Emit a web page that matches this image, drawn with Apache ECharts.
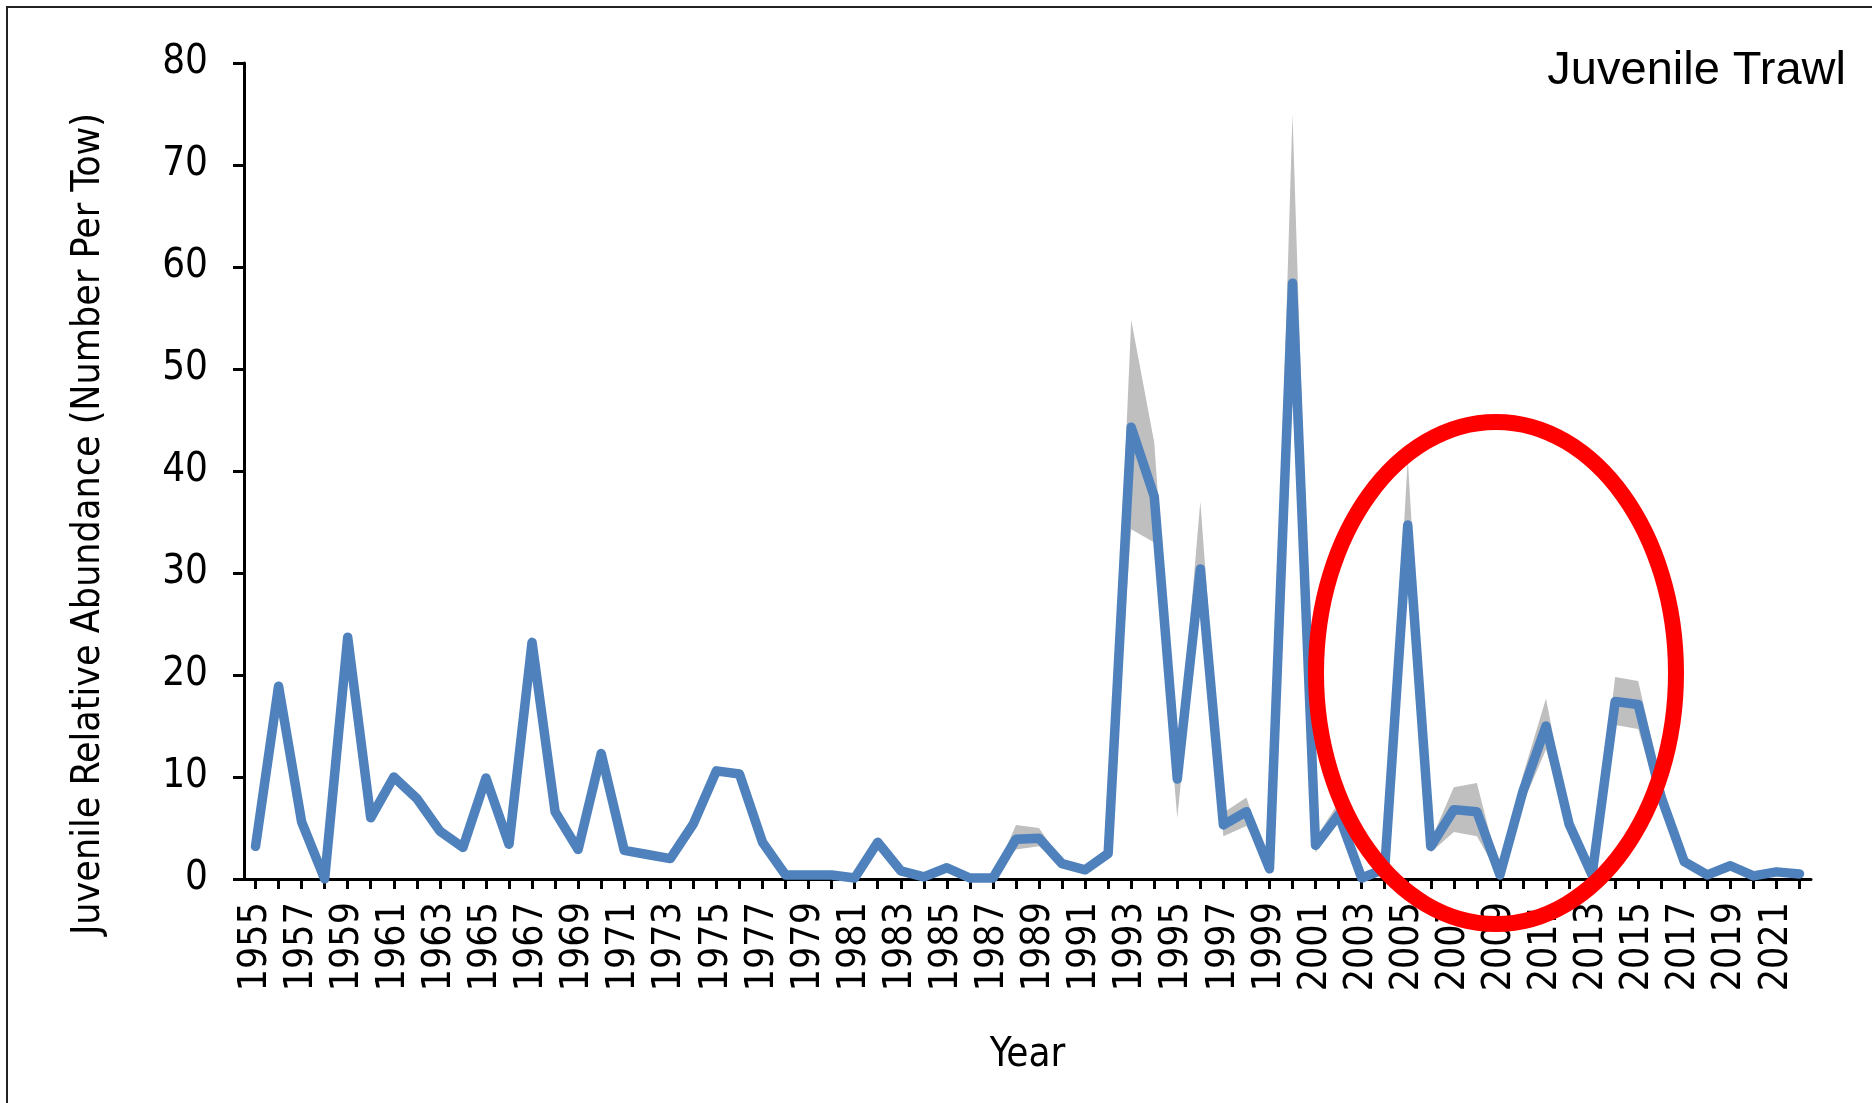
<!DOCTYPE html>
<html>
<head>
<meta charset="utf-8">
<script src="https://cdn.jsdelivr.net/npm/echarts@6/dist/echarts.min.js"></script>
<style>
html,body{margin:0;padding:0;background:#ffffff;}
#chart{width:1872px;height:1103px;}
</style>
</head>
<body>
<div id="chart"></div>
<script>
const years = ["1955","1956","1957","1958","1959","1960","1961","1962","1963","1964",
  "1965","1966","1967","1968","1969","1970","1971","1972","1973","1974",
  "1975","1976","1977","1978","1979","1980","1981","1982","1983","1984",
  "1985","1986","1987","1988","1989","1990","1991","1992","1993","1994",
  "1995","1996","1997","1998","1999","2000","2001","2002","2003","2004",
  "2005","2006","2007","2008","2009","2010","2011","2012","2013","2014",
  "2015","2016","2017","2018","2019","2020","2021","2022"];

const abundance = [3.2,18.9,5.6,0.0,23.7,6.0,10.0,7.9,4.7,3.1,
  9.9,3.4,23.2,6.6,2.9,12.3,2.8,2.4,2.0,5.4,
  10.6,10.3,3.6,0.4,0.4,0.4,0.1,3.6,0.8,0.2,
  1.1,0.1,0.1,3.9,4.0,1.5,0.9,2.5,44.3,37.5,
  9.8,30.4,5.3,6.6,1.0,58.4,3.3,6.3,0.1,1.0,
  34.7,3.2,6.8,6.6,0.4,8.6,15.0,5.4,0.4,17.4,
  17.1,8.0,1.7,0.4,1.3,0.3,0.7,0.5];

const ciLower = [3.2,18.9,5.6,0.0,23.7,6.0,10.0,7.9,4.7,3.1,
  9.9,3.4,23.2,6.6,2.9,12.3,2.8,2.4,2.0,5.4,
  10.6,10.3,3.6,0.4,0.4,0.4,0.1,3.6,0.8,0.2,
  1.1,0.1,0.1,2.9,3.2,1.3,0.9,2.2,34.3,33.0,
  6.0,28.5,4.2,5.2,0.8,47.0,2.6,5.5,0.0,0.8,
  30.0,2.6,4.6,4.2,0.2,7.4,12.7,4.8,0.2,15.1,
  14.7,7.0,1.3,0.4,1.3,0.3,0.7,0.5];

const ciUpper = [3.2,18.9,5.6,0.0,23.7,6.0,10.0,7.9,4.7,3.1,
  9.9,3.4,23.2,6.6,2.9,12.3,2.8,2.4,2.0,5.4,
  10.6,10.3,3.6,0.4,0.4,0.4,0.1,3.6,0.8,0.2,
  1.1,0.1,0.1,5.3,5.0,1.7,0.9,2.8,54.8,42.8,
  10.5,37.0,6.5,8.0,1.2,75.0,4.0,7.5,0.2,1.2,
  41.2,3.8,9.0,9.4,0.6,10.2,17.7,6.0,0.6,19.8,
  19.4,9.5,2.1,0.4,1.3,0.3,0.7,0.5];

const yTicks = [0,10,20,30,40,50,60,70,80];

const chartTitle = "Juvenile Trawl";
const xTitle = "Year";
const yTitle = "Juvenile Relative Abundance (Number Per Tow)";

const chart = echarts.init(document.getElementById('chart'), null, {renderer: 'canvas'});

const bandWidth = ciUpper.map((u, i) => +(u - ciLower[i]).toFixed(2));

const option = {
  animation: false,
  backgroundColor: '#ffffff',
  title: {
    text: chartTitle,
    right: 26,
    top: 48,
    padding: 0,
    textStyle: {
      fontFamily: 'Liberation Sans, Arial, sans-serif',
      fontSize: 47,
      fontWeight: 'normal',
      color: '#000000'
    }
  },
  grid: {
    left: 244,
    right: 61,
    top: 63,
    bottom: 224,
    containLabel: false,
    outerBoundsMode: 'none'
  },
  xAxis: {
    type: 'category',
    data: years,
    boundaryGap: true,
    name: xTitle,
    nameLocation: 'middle',
    nameGap: 157,
    nameMoveOverlap: false,
    nameTextStyle: {
      fontFamily: 'DejaVu Sans Condensed, DejaVu Sans, sans-serif',
      fontSize: 40,
      color: '#000000'
    },
    axisLine: {show: true, lineStyle: {color: '#000000', width: 3}},
    axisTick: {show: true, alignWithLabel: true, interval: 0, length: 10, lineStyle: {color: '#000000', width: 3}},
    axisLabel: {
      interval: 1,
      rotate: 90,
      margin: 23,
      fontFamily: 'DejaVu Sans Condensed, DejaVu Sans, sans-serif',
      fontSize: 39,
      color: '#000000'
    },
    splitLine: {show: false}
  },
  yAxis: {
    type: 'value',
    min: yTicks[0],
    max: yTicks[yTicks.length - 1],
    interval: yTicks[1] - yTicks[0],
    axisLine: {show: true, lineStyle: {color: '#000000', width: 3}},
    axisTick: {show: true, length: 11, lineStyle: {color: '#000000', width: 3}},
    axisLabel: {
      margin: 36,
      fontFamily: 'DejaVu Sans Condensed, DejaVu Sans, sans-serif',
      fontSize: 40,
      color: '#000000'
    },
    splitLine: {show: false}
  },
  series: [
    {
      name: 'CI lower',
      type: 'line',
      data: ciLower,
      stack: 'ci',
      symbol: 'none',
      silent: true,
      lineStyle: {opacity: 0, width: 0},
      z: 1
    },
    {
      name: 'CI band',
      type: 'line',
      data: bandWidth,
      stack: 'ci',
      symbol: 'none',
      silent: true,
      lineStyle: {opacity: 0, width: 0},
      areaStyle: {color: '#BFBFBF', opacity: 1},
      z: 1
    },
    {
      name: 'Abundance',
      type: 'line',
      data: abundance,
      symbol: 'none',
      lineStyle: {color: '#4F81BD', width: 9.5, join: 'round', cap: 'round'},
      z: 3
    }
  ],
  graphic: [
    {
      type: 'rect',
      z: 200,
      silent: true,
      shape: {x: 7, y: 7, width: 1900, height: 1200},
      style: {fill: 'none', stroke: '#222222', lineWidth: 2}
    },
    {
      type: 'text',
      z: 200,
      x: 89,
      y: 524,
      rotation: Math.PI / 2,
      style: {
        text: yTitle,
        font: '39px "DejaVu Sans Condensed", "DejaVu Sans", sans-serif',
        fill: '#000000',
        align: 'center',
        verticalAlign: 'middle',
        textAlign: 'center',
        textVerticalAlign: 'middle'
      }
    },
    {
      type: 'ellipse',
      z: 300,
      silent: true,
      shape: {cx: 1496, cy: 673, rx: 180, ry: 251},
      style: {fill: 'none', stroke: '#FF0000', lineWidth: 16}
    }
  ]
};

chart.setOption(option);
</script>
</body>
</html>
